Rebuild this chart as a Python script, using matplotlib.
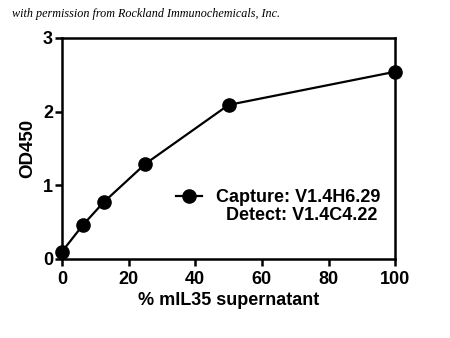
import matplotlib.pyplot as plt
from matplotlib.lines import Line2D

# ELISA standard curve: OD450 vs % supernatant
percentSupernatant = [0, 6.25, 12.5, 25, 50, 100]
od450 = [0.10, 0.46, 0.77, 1.29, 2.09, 2.54]

xTicks = [0, 20, 40, 60, 80, 100]
yTicks = [0, 1, 2, 3]

captureLabel = 'Capture: V1.4H6.29'
detectLabel = '  Detect: V1.4C4.22'

plt.rcParams['font.family'] = ['Liberation Sans', 'DejaVu Sans']

fig = plt.figure(figsize=(4.5, 3.38), dpi=100)
ax = fig.add_axes([0.138, 0.234, 0.740, 0.654])

curve, = ax.plot(percentSupernatant, od450, color='black', linewidth=1.6,
                 marker='o', markersize=9.5, clip_on=False)

ax.set_xlim(0, 100)
ax.set_ylim(0, 3)
ax.set_xticks(xTicks)
ax.set_yticks(yTicks)

for spine in ax.spines.values():
    spine.set_linewidth(1.8)
ax.tick_params(axis='both', direction='out', width=1.8, length=5,
               labelsize=13, top=False, right=False)
ax.tick_params(axis='y', pad=1.5)
for lbl in ax.get_xticklabels() + ax.get_yticklabels():
    lbl.set_fontweight('bold')

ax.set_xlabel('% mIL35 supernatant', fontsize=13, fontweight='bold', labelpad=3)
ax.set_ylabel('OD450', fontsize=13.5, fontweight='bold', labelpad=5)

# second row has no handle, just the detection antibody
blank = Line2D([], [], linestyle='none')
ax.legend([curve, blank], [captureLabel, detectLabel],
          loc='lower right', bbox_to_anchor=(0.955, 0.159), frameon=False,
          prop={'size': 13, 'weight': 'bold'}, handlelength=1.45,
          handletextpad=0.75, borderpad=0, borderaxespad=0, labelspacing=0.05)

fig.text(0.027, 0.95, 'with permission from Rockland Immunochemicals, Inc.',
         fontsize=8.7, family='Liberation Serif', style='italic')

fig.savefig('out.png', dpi=100)
